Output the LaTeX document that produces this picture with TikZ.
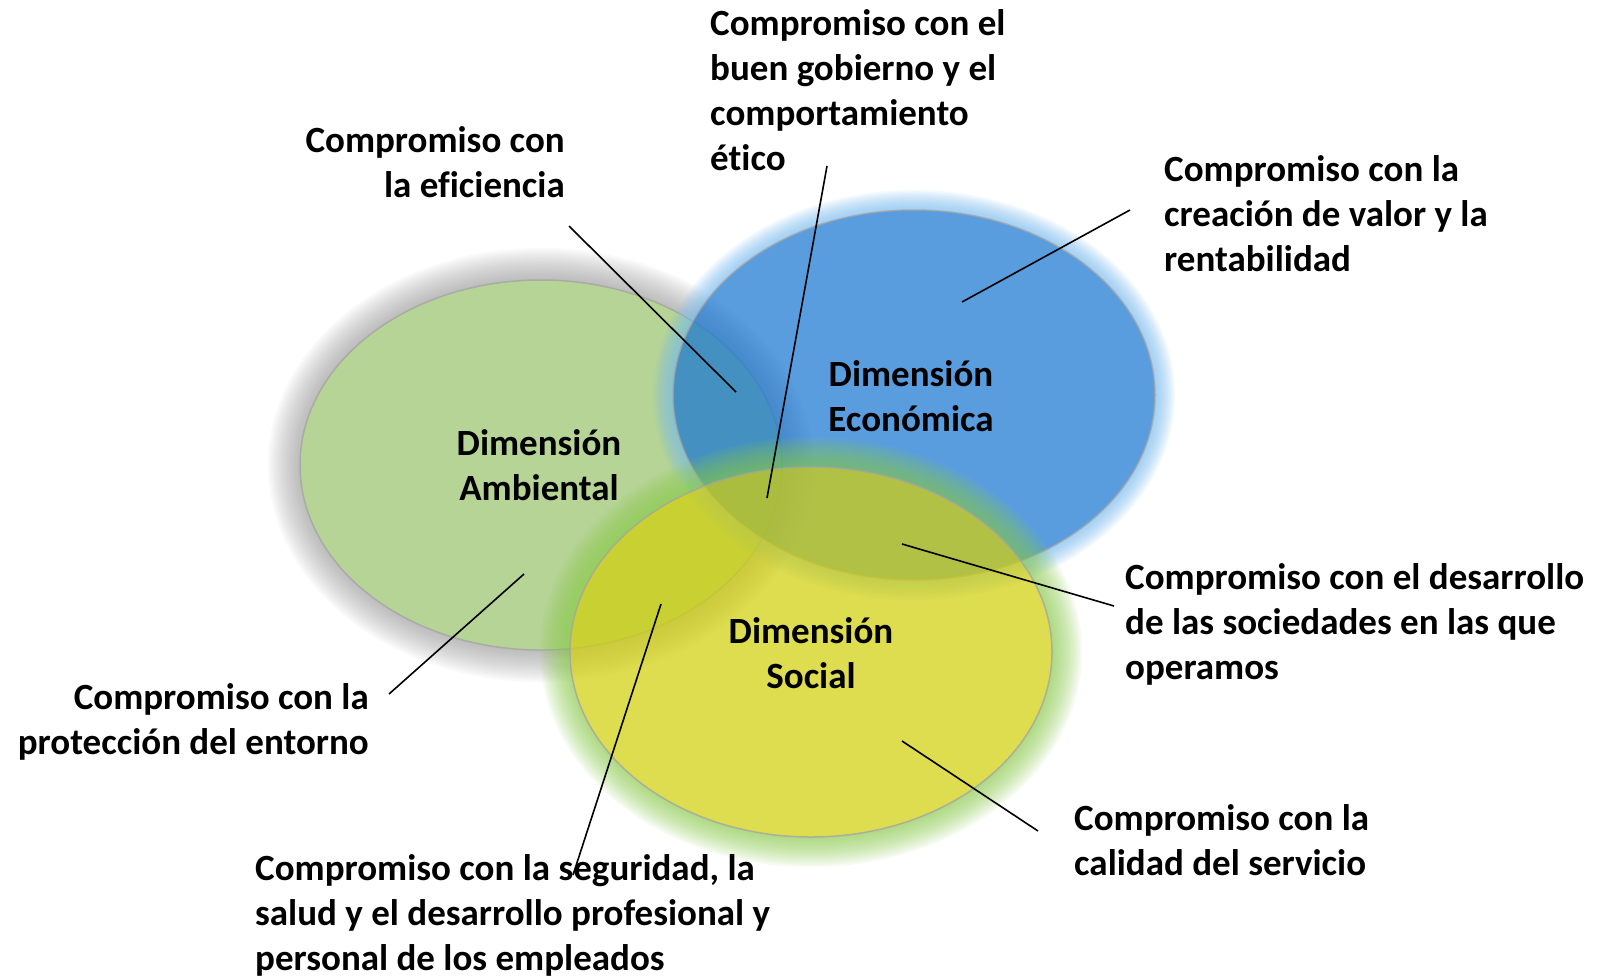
\documentclass[tikz,border=0pt]{standalone}
\usepackage{fontspec}
\setmainfont{Carlito}[Ligatures=NoCommon]
\definecolor{gfill}{RGB}{151,195,104}
\definecolor{bfill}{RGB}{22,118,211}
\definecolor{yfill}{RGB}{210,207,12}
\definecolor{gglow}{RGB}{140,140,140}
\definecolor{bglow}{RGB}{120,190,245}
\definecolor{yglow}{RGB}{140,205,75}
\definecolor{edgegray}{RGB}{165,165,165}
\newcommand\glowring[6]{% center, rx, ry, width, color, opacity per layer
  \foreach \k in {0,...,13}{%
    \fill[#5, opacity=#6, even odd rule] (#1) ellipse [x radius={#2pt+#4pt*(1-\k/14)}, y radius={#3pt+#4pt*(1-\k/14)}] (#1) ellipse [x radius=#2pt, y radius=#3pt];
  }%
}
\tikzset{
  lbl/.style={inner sep=0pt, font=\fontsize{37}{45}\selectfont\bfseries},
  dimlbl/.style={inner sep=0pt, align=center, font=\fontsize{37}{45}\selectfont\bfseries},
  conn/.style={draw=black, line width=1.6pt},
  ringedge/.style={draw=edgegray, line width=1.5pt}
}
\begin{document}
\begin{tikzpicture}[x=1pt,y=-1pt]
\useasboundingbox (0,0) rectangle (1605,977);
\fill[white] (0,0) rectangle (1605,977);
% ellipses with glows
\coordinate (gc) at (541,465);
\coordinate (bc) at (914,395);
\coordinate (yc) at (811,652);
\glowring{gc}{241}{185}{32}{gglow}{0.05}
\fill[gfill, opacity=0.7] (gc) ellipse [x radius=241pt, y radius=185pt];
\draw[ringedge, opacity=0.8] (gc) ellipse [x radius=241pt, y radius=185pt];
\glowring{bc}{241}{185}{20}{bglow}{0.07}
\fill[bfill, opacity=0.71] (bc) ellipse [x radius=241pt, y radius=185pt];
\draw[ringedge, opacity=0.8] (bc) ellipse [x radius=241pt, y radius=185pt];
\glowring{yc}{241}{185}{30}{yglow}{0.07}
\fill[yfill, opacity=0.72] (yc) ellipse [x radius=241pt, y radius=185pt];
\draw[ringedge, opacity=0.8] (yc) ellipse [x radius=241pt, y radius=185pt];
% dimension labels
\node[dimlbl, anchor=north] (dA) at (539,425) {\rule{0pt}{30pt}Dimensión\\Ambiental};
\node[dimlbl, anchor=north] (dE) at (911,356) {\rule{0pt}{30pt}Dimensión\\Económica};
\node[dimlbl, anchor=north] (dS) at (811,613) {\rule{0pt}{30pt}Dimensión\\Social};
% commitment labels
\node[lbl, anchor=north west, align=left] (lEtico) at (710,5) {\rule{0pt}{30pt}Compromiso con el\\buen gobierno y el\\comportamiento\\ético};
\node[lbl, anchor=north east, align=right] (lEfic) at (565,122) {\rule{0pt}{30pt}Compromiso con\\la eficiencia};
\node[lbl, anchor=north west, align=left] (lRent) at (1164,151) {\rule{0pt}{30pt}Compromiso con la\\creación de valor y la\\rentabilidad};
\node[lbl, anchor=north west, align=left] (lSoc) at (1125,559) {\rule{0pt}{30pt}Compromiso con el desarrollo\\de las sociedades en las que\\operamos};
\node[lbl, anchor=north east, align=right] (lProt) at (369,679) {\rule{0pt}{30pt}Compromiso con la\\protección del entorno};
\node[lbl, anchor=north west, align=left] (lSeg) at (255,850) {\rule{0pt}{30pt}Compromiso con la seguridad, la\\salud y el desarrollo profesional y\\personal de los empleados};
\node[lbl, anchor=north west, align=left] (lCal) at (1074,800) {\rule{0pt}{30pt}Compromiso con la\\calidad del servicio};
% connectors
\coordinate (c1a) at (569,226); \coordinate (c1b) at (736,392);
\coordinate (c2a) at (827,166); \coordinate (c2b) at (767,498);
\coordinate (c3a) at (1130,210); \coordinate (c3b) at (962,302);
\coordinate (c4a) at (902,544); \coordinate (c4b) at (1114,606);
\coordinate (c5a) at (524,574); \coordinate (c5b) at (389,694);
\coordinate (c6a) at (661,604); \coordinate (c6b) at (573,875);
\coordinate (c7a) at (902,741); \coordinate (c7b) at (1038,831);
\draw[conn] (c1a) -- (c1b);
\draw[conn] (c2a) -- (c2b);
\draw[conn] (c3a) -- (c3b);
\draw[conn] (c4a) -- (c4b);
\draw[conn] (c5a) -- (c5b);
\draw[conn] (c6a) -- (c6b);
\draw[conn] (c7a) -- (c7b);
\end{tikzpicture}
\end{document}
